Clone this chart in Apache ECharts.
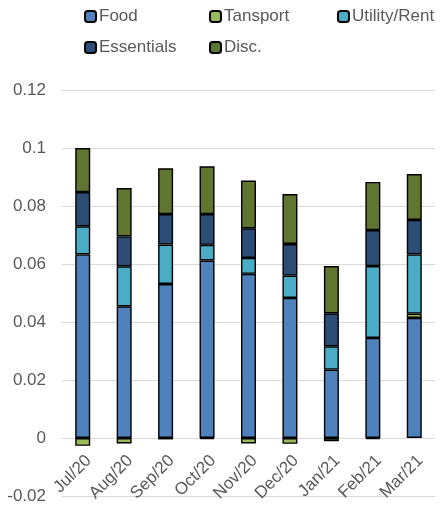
<!DOCTYPE html>
<html>
<head>
<meta charset="utf-8">
<script src="https://cdn.jsdelivr.net/npm/echarts@6/dist/echarts.min.js"></script>
<style>html,body{margin:0;padding:0;background:#fff}#c{width:444px;height:505px}</style>
</head>
<body>
<div id="c"></div>
<script>
const categories = ['Jul/20','Aug/20','Sep/20','Oct/20','Nov/20','Dec/20','Jan/21','Feb/21','Mar/21'];
const food = [0.0633, 0.0454, 0.0531, 0.0612, 0.0566, 0.0483, 0.0236, 0.0345, 0.0414];
const transport = [-0.0027, -0.0019, -0.0005, -0.0004, -0.0019, -0.0020, -0.0011, -0.0004, 0.0015];
const utility = [0.0097, 0.0138, 0.0136, 0.0054, 0.0055, 0.0077, 0.0080, 0.0248, 0.0204];
const essentials = [0.0118, 0.0103, 0.0105, 0.0106, 0.0102, 0.0109, 0.0114, 0.0124, 0.0119];
const disc = [0.0152, 0.0167, 0.0158, 0.0165, 0.0165, 0.0172, 0.0163, 0.0166, 0.0158];
const seriesNames = ['Food','Tansport','Utility/Rent','Essentials','Disc.'];
const seriesData = [food, transport, utility, essentials, disc];
const colors = ['#4F81BD','#9BBB59','#4BACC6','#2C4D75','#5F7530'];

const font = 'Liberation Sans, Arial, sans-serif';
const legendPos = [[84,8],[209,8],[337,8],[84,39],[209,39]];
const chart = echarts.init(document.getElementById('c'));
chart.setOption({
  animation: false,
  textStyle: {fontFamily: font},
  legend: seriesNames.map((n, i) => ({
    data: [n], left: legendPos[i][0], top: legendPos[i][1],
    itemWidth: 11, itemHeight: 11, itemGap: 4, padding: 0,
    textStyle: {fontFamily: font, fontSize: 17, color: '#595959', padding: [0,0,0,-2]}
  })),
  grid: {left: 62, right: 9, top: 90, bottom: 9, containLabel: false, outerBoundsMode: 'none'},
  xAxis: {
    type: 'category', data: categories, offset: -58,
    axisLine: {show: false, onZero: false},
    axisTick: {show: false},
    axisLabel: {rotate: 45, margin: 14, verticalAlign: 'top', fontSize: 17, color: '#595959',
      fontFamily: font, interval: 0, hideOverlap: false}
  },
  yAxis: {
    type: 'value', min: -0.02, max: 0.12, interval: 0.02,
    axisLine: {show: false}, axisTick: {show: false},
    splitLine: {lineStyle: {color: '#D9D9D9', width: 1}},
    axisLabel: {fontSize: 17, color: '#595959', fontFamily: font, margin: 16,
      formatter: v => String(+v.toFixed(2))}
  },
  series: seriesNames.map((n, i) => ({
    name: n, type: 'bar', stack: 'total', data: seriesData[i],
    barWidth: 15,
    itemStyle: {color: colors[i], borderColor: '#000', borderWidth: 1.4}
  }))
});
</script>
</body>
</html>
